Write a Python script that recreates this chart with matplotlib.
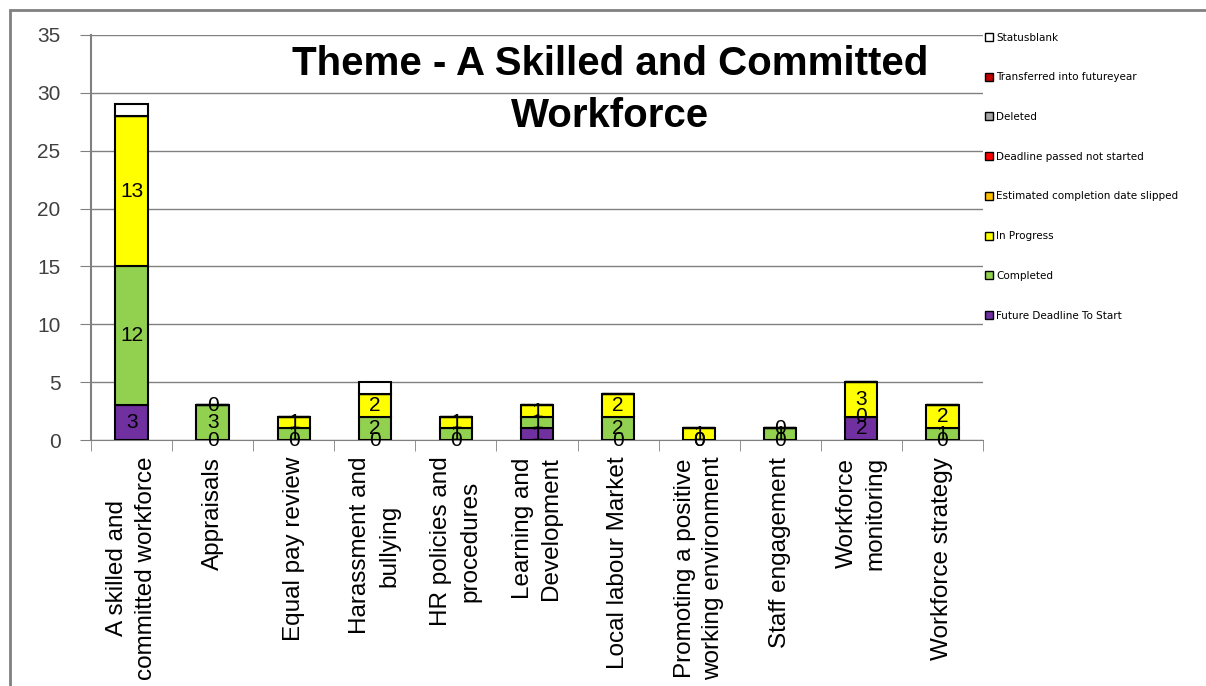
import matplotlib.pyplot as plt
import numpy as np
from matplotlib.patches import Rectangle, Patch

plt.rcParams['font.family'] = ['Liberation Sans', 'DejaVu Sans']

categories = ["A skilled and\ncommitted workforce", "Appraisals", "Equal pay review",
              "Harassment and\nbullying", "HR policies and\nprocedures", "Learning and\nDevelopment",
              "Local labour Market", "Promoting a positive\nworking environment", "Staff engagement",
              "Workforce\nmonitoring", "Workforce strategy"]

future = [3, 0, 0, 0, 0, 1, 0, 0, 0, 2, 0]
completed = [12, 3, 1, 2, 1, 1, 2, 0, 1, 0, 1]
in_progress = [13, 0, 1, 2, 1, 1, 2, 1, 0, 3, 2]
slipped = [0, 0, 0, 0, 0, 0, 0, 0, 0, 0, 0]
deadline_passed = [0, 0, 0, 0, 0, 0, 0, 0, 0, 0, 0]
deleted = [0, 0, 0, 0, 0, 0, 0, 0, 0, 0, 0]
transferred = [0, 0, 0, 0, 0, 0, 0, 0, 0, 0, 0]
status_blank = [1, 0, 0, 1, 0, 0, 0, 0, 0, 0, 0]

series = [
    ("Future Deadline To Start", future, "#7030A0", True),
    ("Completed", completed, "#92D050", True),
    ("In Progress", in_progress, "#FFFF00", True),
    ("Estimated completion date slipped", slipped, "#FFC000", False),
    ("Deadline passed not started", deadline_passed, "#FF0000", False),
    ("Deleted", deleted, "#A6A6A6", False),
    ("Transferred into futureyear", transferred, "#C00000", False),
    ("Statusblank", status_blank, "#FFFFFF", False),
]

fig = plt.figure(figsize=(12.06, 6.86), dpi=100)
ax = fig.add_axes([0.0755, 0.3586, 0.7395, 0.5904])

# outer chart frame
fig.patches.append(Rectangle((10 / 1206, -0.05), 1.2, (676 / 686) + 0.05, transform=fig.transFigure,
                             fill=False, edgecolor="#808080", linewidth=2))

x = np.arange(len(categories))
bottom = np.zeros(len(categories))
for name, vals, col, labelled in series:
    vals = np.array(vals, dtype=float)
    ax.bar(x, vals, 0.4, bottom=bottom, color=col, edgecolor="black", linewidth=1.5, zorder=3)
    if labelled:
        for xi, b, v in zip(x, bottom, vals):
            ax.text(xi, b + v / 2, "%d" % v, ha="center", va="center", fontsize=15, zorder=4)
    bottom += vals

ax.set_xlim(-0.5, len(categories) - 0.5)
ax.set_ylim(0, 35)
ax.set_yticks(range(0, 36, 5))
ax.yaxis.grid(True, color="#808080", linewidth=1)
ax.set_axisbelow(True)
for s in ["top", "right"]:
    ax.spines[s].set_visible(False)
ax.spines["left"].set_color("#808080")
ax.spines["bottom"].set_color("#808080")
ax.spines["left"].set_linewidth(1.5)
ax.tick_params(axis="y", length=8, color="#808080", labelsize=15, labelcolor="#404040", pad=14)

ax.set_xticks(x)
ax.set_xticklabels(categories, rotation=90, ha="center", va="top", multialignment="center",
                   fontsize=17.5, linespacing=1.4)
ax.set_xticks(np.arange(-0.5, len(categories), 1), minor=True)
ax.tick_params(axis="x", which="major", length=0, pad=12)
ax.tick_params(axis="x", which="minor", length=8, color="#808080")

fig.text(0.506, 0.869, "Theme - A Skilled and Committed\nWorkforce", ha="center", va="center",
         fontsize=29, fontweight="bold", linespacing=1.45)

handles = [Patch(facecolor=col, edgecolor="black", label=name) for name, vals, col, lab in series][::-1]
fig.legend(handles=handles, loc="upper left", bbox_to_anchor=(0.809, 0.966), frameon=False,
           prop={"family": "DejaVu Sans", "size": 7.5}, labelspacing=2.85,
           handlelength=0.8, handleheight=0.8, handletextpad=0.3)

fig.savefig("out.png", dpi=100)
